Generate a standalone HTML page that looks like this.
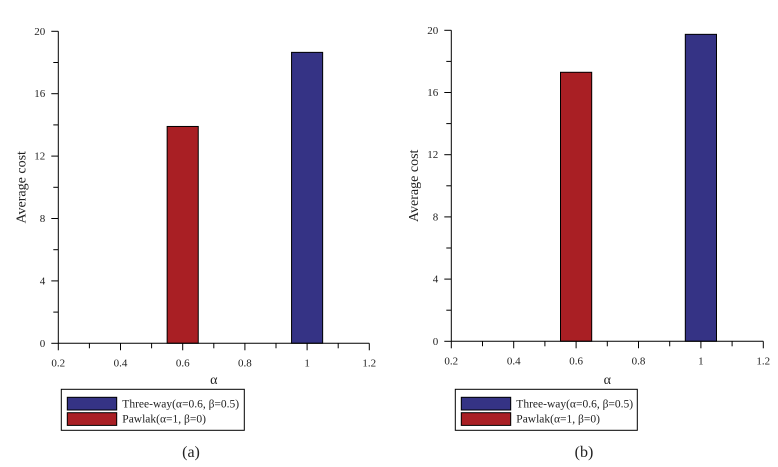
<!DOCTYPE html>
<html><head><meta charset="utf-8"><style>
body{margin:0;background:#fff}
svg{display:block}
svg text{font-family:"Liberation Serif","DejaVu Serif","Times New Roman",serif}
</style></head><body>
<svg id="svg" width="778" height="467" xmlns="http://www.w3.org/2000/svg"></svg>
<script>
const categories = [0.6, 1.0];
const seriesNames = ["Three-way(\u03b1=0.6, \u03b2=0.5)", "Pawlak(\u03b1=1, \u03b2=0)"];
const panelAPawlak = [13.9];
const panelAThreeWay = [18.65];
const panelBPawlak = [17.3];
const panelBThreeWay = [19.74];
const xTicks = [0.2, 0.4, 0.6, 0.8, 1, 1.2];
const yTicks = [0, 4, 8, 12, 16, 20];
const panelLabels = ["(a)", "(b)"];

const NS = "http://www.w3.org/2000/svg";
const FONT = "Liberation Serif, DejaVu Serif, serif";
const svg = document.getElementById('svg');
function mk(tag, attrs, parent, text){
  const e = document.createElementNS(NS, tag);
  for (const k in attrs) e.setAttribute(k, attrs[k]);
  if (tag === 'text') e.setAttribute('font-family', FONT);
  if (text !== undefined) e.textContent = text;
  parent.appendChild(e);
  return e;
}
const panels = [
  {x0:58.3, x1:369.3, y0:343.3, y1:31.3, red:panelAPawlak, blue:panelAThreeWay, lg:[61.3,389.3,183,41], lab:panelLabels[0], labX:191, yl:21.7},
  {x0:451.3, x1:763.3, y0:341.3, y1:30.3, red:panelBPawlak, blue:panelBThreeWay, lg:[455.3,389.3,182,41], lab:panelLabels[1], labX:584, yl:414}
];
panels.forEach((p, i) => {
  const g = mk('g', {}, svg);
  
  
  const xs = v => p.x0 + (v - 0.2) / 1.0 * (p.x1 - p.x0);
  const ys = v => p.y0 + v / 20 * (p.y1 - p.y0);
  const bw = xs(0.65) - xs(0.55);
  p.red.forEach((v) => {
    const r = mk('rect', {x: xs(categories[0]) - bw/2, y: ys(v), width: bw, height: ys(0) - ys(v), fill:'#a91f24', stroke:'#000', 'stroke-width':1}, g);
    
    
  });
  p.blue.forEach((v) => {
    const r = mk('rect', {x: xs(categories[1]) - bw/2, y: ys(v), width: bw, height: ys(0) - ys(v), fill:'#353385', stroke:'#000', 'stroke-width':1}, g);
    
    
  });
  const xa = mk('line', {x1:p.x0, x2:p.x1, y1:p.y0, y2:p.y0, stroke:'#000', 'stroke-width':1}, g);
  
  
  const ya = mk('line', {x1:p.x0, x2:p.x0, y1:p.y0, y2:p.y1, stroke:'#000', 'stroke-width':1}, g);
  
  
  for (let k = 0; k <= 10; k++) {
    const v = 0.2 + k * 0.1;
    mk('line', {x1:xs(v), x2:xs(v), y1:p.y0, y2:p.y0 + (k % 2 ? 5 : 7), stroke:'#000'}, g);
  }
  xTicks.forEach(v => {
    const t = mk('text', {x:xs(v), y:p.y0 + 23, 'font-size':11, 'text-anchor':'middle', fill:'#222'}, g, String(v));
    
    
  });
  for (let k = 0; k <= 10; k++) {
    const v = k * 2;
    mk('line', {x1:p.x0, x2:p.x0 - (k % 2 ? 5 : 7), y1:ys(v), y2:ys(v), stroke:'#000'}, g);
  }
  yTicks.forEach(v => {
    const t = mk('text', {x:p.x0 - 13, y:ys(v) + 3.5, 'font-size':11, 'text-anchor':'end', fill:'#222'}, g, String(v));
    
    
  });
  const xt = mk('text', {x:(p.x0+p.x1)/2, y:384, 'font-size':14, 'text-anchor':'middle', fill:'#222'}, g, '\u03b1');
  
  
  const yc = (p.y0 + p.y1) / 2;
  const yt = mk('text', {x:p.yl + 4, y:yc, 'font-size':14, 'text-anchor':'middle', fill:'#222', transform:`rotate(-90 ${p.yl+4} ${yc})`}, g, 'Average cost');
  
  
  const [lx, ly, lw, lh] = p.lg;
  const lgG = mk('g', {}, g);
  
  
  mk('rect', {x:lx, y:ly, width:lw, height:lh, fill:'#fff', stroke:'#000'}, lgG);
  [['#353385', seriesNames[0], 8], ['#a91f24', seriesNames[1], 23.4]].forEach(([c, n, dy]) => {
    const e = mk('g', {}, lgG);
    
    
    mk('rect', {x:lx + 6, y:ly + dy, width:49.4, height:12.7, fill:c, stroke:'#000'}, e);
    mk('text', {x:lx + 61, y:ly + dy + 10, 'font-size':11.5, fill:'#222'}, e, n);
  });
  const pl = mk('text', {x:p.labX, y:457, 'font-size':16, 'text-anchor':'middle', fill:'#222'}, g, p.lab);
  
  
});
</script>
</body></html>
